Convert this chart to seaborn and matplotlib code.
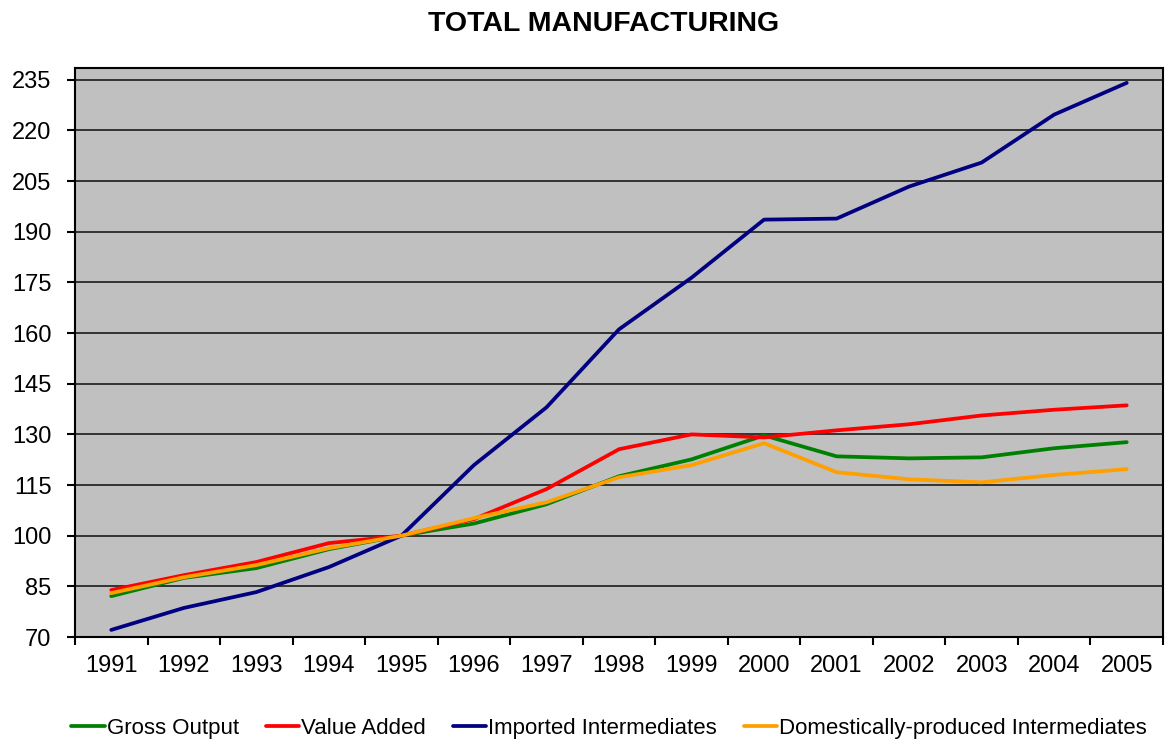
import numpy as np
import pandas as pd
import matplotlib
matplotlib.use("Agg")
from matplotlib import pyplot as plt
from matplotlib.ticker import FixedLocator
import seaborn as sns

years = [str(y) for y in range(1991, 2006)]
gross_output = [82.1, 87.5, 90.4, 96.0, 100.0, 103.6, 109.3, 117.6, 122.6, 129.7,
                123.5, 122.9, 123.2, 125.9, 127.7]
value_added = [83.9, 88.3, 92.2, 97.8, 100.0, 104.9, 113.8, 125.6, 130.0, 129.1,
               131.2, 133.0, 135.6, 137.3, 138.6]
imported = [72.1, 78.6, 83.3, 90.7, 100.0, 120.9, 138.0, 161.1, 176.4, 193.6,
            193.9, 203.4, 210.5, 224.7, 234.1]
domestic = [83.0, 87.7, 91.3, 96.3, 100.0, 105.2, 109.9, 117.3, 120.9, 127.4,
            118.8, 116.7, 115.8, 118.0, 119.7]
series_names = ["Gross Output", "Value Added", "Imported Intermediates",
                "Domestically-produced Intermediates"]
colors = ["#008000", "#FF0000", "#000080", "#FFA000"]

df = pd.DataFrame({
    "x": list(range(len(years))) * 4,
    "value": gross_output + value_added + imported + domestic,
    "series": np.repeat(series_names, len(years)),
})

sns.set_style("white")
plt.rcParams["font.family"] = ["Liberation Sans", "DejaVu Sans"]
plt.rcParams["text.color"] = "black"
plt.rcParams["xtick.color"] = "black"
plt.rcParams["ytick.color"] = "black"

fig = plt.figure(figsize=(11.66, 7.42), dpi=100)
ax = fig.add_axes([75 / 1166, 105 / 742, 1088 / 1166, 569 / 742])
ax.set_facecolor("#C0C0C0")

sns.lineplot(data=df, x="x", y="value", hue="series", palette=colors,
             hue_order=series_names, linewidth=2.7, ax=ax, zorder=3)

ax.set_xlim(-0.5, len(years) - 0.5)
ax.set_ylim(70, 238.5)
ax.set_yticks(range(70, 236, 15))
ax.tick_params(axis="y", labelsize=17, length=6, width=1.5, direction="out", left=True, pad=11)
ax.set_xticks(range(len(years)))
ax.set_xticklabels(years)
ax.xaxis.set_minor_locator(FixedLocator(np.arange(-0.5, len(years), 1)))
ax.tick_params(axis="x", which="major", labelsize=17, length=0, pad=13)
ax.tick_params(axis="x", which="minor", length=6, width=1.5, direction="out", bottom=True)
ax.grid(axis="y", color="#333333", linewidth=1.4, zorder=1)
ax.set_axisbelow(True)
for s in ax.spines.values():
    s.set_color("black")
    s.set_linewidth(1.5)
ax.set_xlabel("")
ax.set_ylabel("")

fig.suptitle("TOTAL MANUFACTURING", fontsize=20.5, fontweight="bold", x=0.518, y=0.985)

ax.legend(loc="center", bbox_to_anchor=(0.491, -0.16), ncol=4, frameon=False,
          fontsize=16, handlelength=1.5, handletextpad=0.1, columnspacing=1.2)

fig.savefig("out.png", dpi=100)
